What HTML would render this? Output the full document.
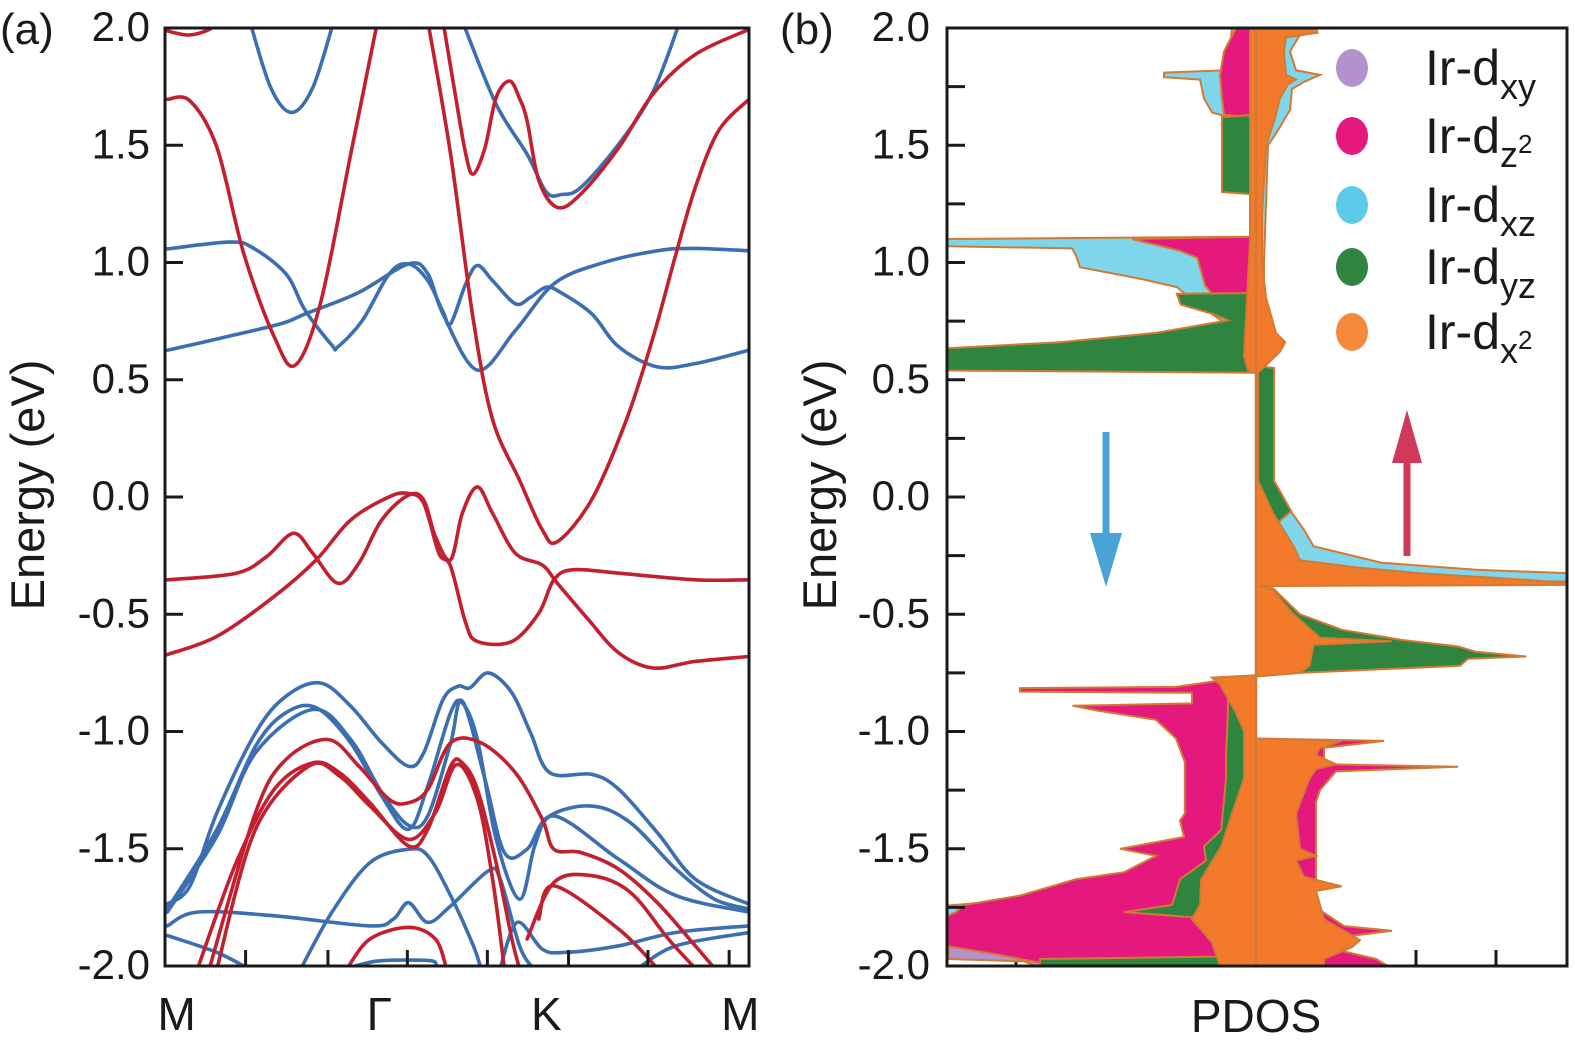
<!DOCTYPE html>
<html><head><meta charset="utf-8"><style>
html,body{margin:0;padding:0;background:#fff;}
svg{display:block;font-family:"Liberation Sans",sans-serif;}
</style></head><body>
<svg id="fig" width="1575" height="1040" viewBox="0 0 1575 1040" xmlns="http://www.w3.org/2000/svg">
<defs>
<clipPath id="clipA"><rect x="165" y="28" width="584" height="938"/></clipPath>
<clipPath id="clipB"><rect x="947" y="28" width="620" height="938"/></clipPath>
</defs>
<rect width="1575" height="1040" fill="#fff"/>
<g id="panelA"></g>
<g id="panelB"></g>
</svg>
<script>
// ---------- Panel (a) band structure data: k (path fraction 0..1) and energies (eV) ----------
const redBandK = [
 [0.004,0.043,0.089,0.135,0.187,0.223,0.266,0.318,0.364],
 [0.0,0.04,0.076,0.09],
 [0.45,0.489,0.528,0.561,0.607,0.646,0.672,0.731,0.79,0.836,0.875,0.908,0.948,1.0],
 [0.476,0.495,0.515,0.528,0.548,0.567,0.59,0.607,0.62,0.64,0.672,0.712,0.777,0.836,0.908,1.0],
 [0.004,0.122,0.174,0.22,0.253,0.296,0.332,0.371,0.417,0.443,0.463,0.489,0.509,0.535,0.561,0.6,0.646,0.672,0.725,0.777,0.836,0.908,1.0],
 [0.004,0.089,0.187,0.259,0.318,0.384,0.417,0.443,0.469,0.489,0.515,0.535,0.594,0.64,0.666,0.699,0.777,0.908,1.0],
 [0.056,0.122,0.187,0.253,0.299,0.351,0.417,0.45,0.489,0.509,0.535,0.567,0.594,0.607],
 [0.076,0.155,0.207,0.279,0.332,0.384,0.417,0.45,0.489,0.541,0.6,0.646,0.666,0.712,0.777,0.843,0.908,0.941],
 [0.089,0.155,0.246,0.299,0.351,0.417,0.463,0.499,0.535,0.561,0.581],
 [0.62,0.666,0.731,0.797,0.862,0.908],
 [0.64,0.666,0.777,0.843],
 [0.312,0.351,0.417,0.463,0.482]
];
const redBandE = [
 [1.696,1.689,1.49,1.037,0.683,0.562,0.824,1.462,2.03],
 [1.99,1.97,1.994,2.03],
 [2.03,1.462,0.753,0.33,0.072,-0.14,-0.19,-0.01,0.329,0.683,1.037,1.32,1.562,1.696],
 [2.03,1.746,1.462,1.377,1.49,1.703,1.774,1.70,1.604,1.35,1.235,1.292,1.49,1.72,1.887,1.994],
 [-0.353,-0.325,-0.254,-0.155,-0.24,-0.368,-0.282,-0.098,0.008,-0.013,-0.169,-0.268,-0.07,0.043,-0.07,-0.24,-0.29,-0.368,-0.523,-0.665,-0.729,-0.701,-0.68],
 [-0.672,-0.594,-0.424,-0.268,-0.098,0.001,0.015,-0.027,-0.24,-0.296,-0.538,-0.616,-0.616,-0.495,-0.353,-0.31,-0.325,-0.353,-0.353],
 [-2.01,-1.559,-1.247,-1.134,-1.176,-1.304,-1.488,-1.417,-1.148,-1.134,-1.247,-1.559,-1.885,-2.01],
 [-2.01,-1.346,-1.12,-1.034,-1.148,-1.29,-1.304,-1.247,-1.048,-1.048,-1.176,-1.374,-1.502,-1.516,-1.587,-1.73,-1.914,-2.01],
 [-2.01,-1.417,-1.148,-1.19,-1.318,-1.46,-1.346,-1.141,-1.29,-1.63,-2.01],
 [-1.885,-1.644,-1.615,-1.686,-1.885,-2.01],
 [-1.8,-1.658,-1.843,-2.01],
 [-2.01,-1.885,-1.835,-1.885,-2.01]
];
const blueBandK = [
 [0.145,0.181,0.217,0.253,0.289],
 [0.509,0.567,0.62,0.653,0.679,0.712,0.777,0.836,0.882],
 [0.004,0.109,0.148,0.207,0.24,0.286,0.296,0.338,0.384,0.417,0.45,0.476,0.489,0.515,0.535,0.561,0.6,0.626,0.653,0.679,0.731,0.777,0.843,0.908,1.0],
 [0.004,0.1,0.2,0.24,0.33,0.417,0.45,0.476,0.535,0.6,0.666,0.745,0.843,0.908,1.0],
 [0.004,0.043,0.089,0.155,0.207,0.266,0.318,0.371,0.417,0.443,0.476,0.502,0.522,0.554,0.594,0.626,0.659,0.731,0.777,0.843,0.908,1.0],
 [0.004,0.089,0.155,0.207,0.259,0.318,0.371,0.417,0.45,0.489,0.509,0.535,0.567,0.607,0.633,0.659,0.731,0.797,0.875,0.941,1.0],
 [0.004,0.089,0.155,0.253,0.318,0.371,0.417,0.45,0.489,0.509,0.548,0.581,0.62,0.666,0.777,0.875,1.0],
 [0.233,0.286,0.351,0.417,0.45,0.489,0.528,0.541],
 [0.004,0.056,0.187,0.351,0.391,0.417,0.45,0.489,0.554,0.574,0.607,0.63],
 [0.004,0.089,0.142],
 [0.574,0.603,0.646,0.685,0.777,0.875,1.0],
 [0.81,0.875,1.0],
 [0.312,0.36,0.417,0.46,0.463]
];
const blueBandE = [
 [2.03,1.746,1.64,1.746,2.03],
 [2.03,1.675,1.462,1.30,1.29,1.32,1.505,1.73,2.03],
 [1.058,1.087,1.066,0.952,0.796,0.647,0.64,0.753,0.952,0.994,0.923,0.79,0.739,0.909,0.987,0.923,0.824,0.852,0.895,0.87,0.781,0.64,0.555,0.569,0.626],
 [0.626,0.68,0.74,0.781,0.87,0.994,0.952,0.781,0.541,0.71,0.909,0.995,1.05,1.06,1.05],
 [-1.736,-1.658,-1.346,-1.006,-0.85,-0.793,-0.892,-1.048,-1.148,-1.091,-0.864,-0.807,-0.814,-0.75,-0.835,-1.006,-1.176,-1.183,-1.247,-1.431,-1.63,-1.736],
 [-1.757,-1.417,-1.063,-0.92,-0.899,-1.048,-1.275,-1.417,-1.232,-0.92,-0.878,-1.034,-1.459,-1.715,-1.488,-1.36,-1.318,-1.389,-1.587,-1.715,-1.757],
 [-1.77,-1.445,-1.091,-0.906,-1.034,-1.26,-1.40,-1.36,-1.05,-0.87,-1.204,-1.516,-1.502,-1.36,-1.545,-1.7,-1.77],
 [-2.01,-1.77,-1.559,-1.502,-1.53,-1.70,-1.914,-2.01],
 [-1.829,-1.77,-1.786,-1.829,-1.8,-1.73,-1.814,-1.744,-1.594,-1.63,-1.914,-2.01],
 [-1.87,-1.942,-2.01],
 [-2.01,-1.814,-1.928,-1.942,-1.914,-1.857,-1.829],
 [-2.01,-1.914,-1.857],
 [-2.01,-1.98,-1.975,-1.98,-2.01]
];
const energyTicks = [2.0,1.5,1.0,0.5,0.0,-0.5,-1.0,-1.5,-2.0];
const energyTickLabels = ["2.0","1.5","1.0","0.5","0.0","-0.5","-1.0","-1.5","-2.0"];
const kMinorTicks = [0.138,0.279,0.415,0.552,0.691,0.827,0.966];
const kPointLabels = ["M","Γ","K","M"];
const kPointLabelPos = [0.02,0.367,0.653,0.985];

// ---------- Panel (b) PDOS data: [energy eV, PDOS value] ----------
const dxyUp = [[-1.9,0],[-1.98,0.2],[-2.0,0.3]];
const dz2Up = [[-1.02,0],[-1.03,0],[-1.04,3.2],[-1.07,1.7],[-1.14,1.7],[-1.15,5.05],[-1.17,2.0],[-1.25,1.6],[-1.3,1.5],[-1.75,1.5],[-1.83,2.2],[-1.85,3.4],[-1.88,2.0],[-1.93,2.0],[-1.97,3.0],[-2.0,3.3]];
const dxzUp = [[2.0,1.2],[1.9,0.85],[1.82,1.0],[1.80,1.6],[1.77,1.2],[1.74,0.9],[1.65,0.85],[1.55,0.5],[1.5,0.3],[1.0,0.2],[0.1,0.2],[-0.14,1.2],[-0.21,1.44],[-0.28,3.14],[-0.31,5.5],[-0.325,7.8],[-0.36,7.8],[-0.37,0],[-2.0,0]];
const dyzUp = [[0.56,0],[0.55,0.45],[0.3,0.45],[0.07,0.45],[-0.06,0.88],[-0.1,0.6],[-0.38,0],[-0.39,0.43],[-0.5,1.1],[-0.566,2.14],[-0.61,3.65],[-0.637,5.05],[-0.66,5.5],[-0.68,6.76],[-0.69,5.3],[-0.72,5.1],[-0.75,1.1],[-0.765,0],[-2.0,0]];
const dx2Up = [[2.0,1.5],[1.98,1.54],[1.96,0.75],[1.9,0.7],[1.8,0.75],[1.78,1.0],[1.76,0.8],[1.7,0.6],[1.6,0.45],[1.5,0.25],[1.2,0.15],[1.0,0.15],[0.85,0.25],[0.7,0.5],[0.66,0.73],[0.62,0.6],[0.57,0.3],[0.53,0.05],[0.07,0.05],[-0.07,0.43],[-0.21,0.94],[-0.27,1.1],[-0.3,2.5],[-0.325,4.1],[-0.353,6.76],[-0.367,7.8],[-0.375,7.8],[-0.38,0.1],[-0.40,0.43],[-0.5,0.94],[-0.6,1.6],[-0.615,3.4],[-0.63,1.44],[-0.72,1.34],[-0.75,1.1],[-0.765,0],[-1.03,0],[-1.04,2.14],[-1.07,1.6],[-1.1,1.5],[-1.14,2.0],[-1.16,1.5],[-1.2,1.34],[-1.35,1.0],[-1.5,1.1],[-1.53,1.5],[-1.55,1.0],[-1.62,1.2],[-1.66,2.14],[-1.68,1.5],[-1.8,1.7],[-1.89,2.6],[-1.92,2.4],[-1.97,1.7],[-2.0,1.7]];
const dxyDn = [[-1.9,0],[-1.92,7.7],[-1.97,7.7],[-1.98,5.8],[-2.0,5.5]];
const dz2Dn = [[2.0,0.5],[1.9,0.8],[1.8,0.9],[1.7,0.85],[1.63,0.8],[1.62,0.2],[1.3,0.15],[1.29,0],[1.11,0],[1.10,3.1],[1.05,1.9],[1.02,1.47],[0.9,1.27],[0.85,1.0],[0.753,0.47],[0.7,0.3],[0.6,0.3],[0.555,0.17],[0.54,0],[-0.76,0],[-0.77,0.4],[-0.81,2.0],[-0.815,5.9],[-0.83,5.9],[-0.835,1.6],[-0.88,1.6],[-0.89,4.59],[-0.91,4.0],[-0.95,2.5],[-1.03,2.0],[-1.13,1.78],[-1.35,1.78],[-1.38,1.9],[-1.45,1.8],[-1.5,3.4],[-1.53,2.5],[-1.6,3.3],[-1.63,4.5],[-1.70,5.9],[-1.74,7.3],[-1.77,7.5],[-1.8,7.9],[-1.91,7.9],[-1.95,6.5],[-2.0,5.0]];
const dxzDn = [[2.0,0.6],[1.82,0.7],[1.81,2.3],[1.79,2.3],[1.78,1.4],[1.7,1.3],[1.64,1.1],[1.62,0.7],[1.3,0.7],[1.29,0],[1.11,0],[1.10,7.9],[1.07,7.9],[1.06,4.6],[1.03,4.5],[0.98,4.4],[0.93,2.88],[0.895,1.98],[0.824,1.47],[0.753,0.87],[0.64,0.7],[0.61,0.4],[0.58,1.5],[0.555,1.78],[0.54,0],[-0.77,0],[-0.78,1.0],[-0.9,1.0],[-1.0,1.1],[-1.2,1.2],[-1.42,1.4],[-1.53,2.2],[-1.6,1.9],[-1.63,3.3],[-1.70,4.8],[-1.745,7.9],[-1.78,7.9],[-1.80,3.9],[-1.86,1.9],[-1.92,1.9],[-1.97,1.5],[-2.0,1.5]];
const dyzDn = [[2.0,0],[1.63,0],[1.62,0.85],[1.3,0.85],[1.29,0],[0.87,0],[0.866,1.98],[0.82,1.88],[0.78,1.07],[0.753,0.7],[0.70,2.5],[0.66,4.9],[0.633,7.9],[0.54,7.9],[0.53,0],[-0.82,0],[-0.83,0.7],[-0.9,0.7],[-1.0,0.72],[-1.1,0.75],[-1.2,0.75],[-1.42,0.87],[-1.49,1.3],[-1.55,1.25],[-1.63,1.9],[-1.74,2.1],[-1.77,3.3],[-1.8,1.0],[-1.9,0.6],[-1.96,1.0],[-1.97,5.4],[-2.0,5.4]];
const dx2Dn = [[2.0,0.15],[1.09,0.15],[0.6,0.3],[0.54,0.2],[0.53,0],[-0.76,0],[-0.77,1.1],[-0.8,0.9],[-0.92,0.5],[-1.0,0.3],[-1.2,0.3],[-1.35,0.6],[-1.49,0.87],[-1.63,1.37],[-1.74,1.4],[-1.8,1.6],[-1.9,1.1],[-2.0,0.9]];
const pdosTicks = [-6,-4,-2,2,4,6];
const pdosEnergyTicks = [2.0,1.75,1.5,1.25,1.0,0.75,0.5,0.25,0.0,-0.25,-0.5,-0.75,-1.0,-1.25,-1.5,-1.75,-2.0];
const legendLabels = ["xy","z2","xz","yz","x2"];

// ---------- helpers ----------
const NS = "http://www.w3.org/2000/svg";
const yE = e => 497 - e * 234.5;
const xK = u => 165 + u * 584;
const xP = v => 1256 + v * 40;
function mk(tag, attrs, parent){ const el=document.createElementNS(NS,tag); for(const k in attrs) el.setAttribute(k,attrs[k]); parent.appendChild(el); return el; }
function smoothPath(pts){
  let d = "M"+pts[0][0].toFixed(1)+","+pts[0][1].toFixed(1);
  for(let i=0;i<pts.length-1;i++){
    const p0=pts[Math.max(i-1,0)],p1=pts[i],p2=pts[i+1],p3=pts[Math.min(i+2,pts.length-1)];
    const c1=[p1[0]+(p2[0]-p0[0])/6,p1[1]+(p2[1]-p0[1])/6];
    const c2=[p2[0]-(p3[0]-p1[0])/6,p2[1]-(p3[1]-p1[1])/6];
    d+=" C"+c1[0].toFixed(1)+","+c1[1].toFixed(1)+" "+c2[0].toFixed(1)+","+c2[1].toFixed(1)+" "+p2[0].toFixed(1)+","+p2[1].toFixed(1);
  }
  return d;
}
const A = document.getElementById("panelA");
const B = document.getElementById("panelB");

// ---------- Panel A ----------
const bandsG = mk("g",{"clip-path":"url(#clipA)"},A);


function drawBands(K,E,color,name){
  for(let b=0;b<K.length;b++){
    const pts=K[b].map((u,i)=>[xK(u),yE(E[b][i])]);
    const p=mk("path",{d:smoothPath(pts),fill:"none",stroke:color,"stroke-width":"3.6","stroke-linejoin":"round","stroke-linecap":"round"},bandsG);
    
    
  }
}
drawBands(blueBandK,blueBandE,"#3b6fb1","spin-down-band");
drawBands(redBandK,redBandE,"#c3202f","spin-up-band");
const frameA = mk("rect",{x:165,y:28,width:584,height:938,fill:"none",stroke:"#1a1a1a","stroke-width":"3"},A);


energyTicks.forEach((e,i)=>{
  const t=mk("line",{x1:165,x2:183,y1:yE(e),y2:yE(e),stroke:"#1a1a1a","stroke-width":"3"},A);
  
  
  const l=mk("text",{x:150,y:yE(e)+13,"text-anchor":"end","font-size":"42",fill:"#1a1a1a"},A);
  l.textContent=energyTickLabels[i];
  
  
});
kMinorTicks.forEach(u=>{
  const t=mk("line",{x1:xK(u),x2:xK(u),y1:966,y2:950,stroke:"#1a1a1a","stroke-width":"3"},A);
  
  
});
kPointLabels.forEach((s,i)=>{
  const l=mk("text",{x:xK(kPointLabelPos[i]),y:1030,"text-anchor":"middle","font-size":"46",fill:"#1a1a1a"},A);
  l.textContent=s;
  
  
});
const ylabA=mk("text",{x:0,y:0,transform:"translate(44,485) rotate(-90)","text-anchor":"middle","font-size":"47",fill:"#1a1a1a"},A);
ylabA.textContent="Energy (eV)";


const pa=mk("text",{x:0,y:44,"font-size":"44",fill:"#1a1a1a"},A);
pa.textContent="(a)";



// ---------- Panel B ----------
pdosTicks.forEach(v=>{
  const t=mk("line",{x1:xP(v),x2:xP(v),y1:966,y2:950,stroke:"#1a1a1a","stroke-width":"3"},B);
  
  
});
const fillG = mk("g",{"clip-path":"url(#clipB)"},B);


function drawPdos(data,sign,color,name){
  let pts=[[xP(0),yE(data[0][0])]];
  data.forEach(d=>pts.push([xP(sign*d[1]),yE(d[0])]));
  pts.push([xP(0),yE(data[data.length-1][0])]);
  const p=mk("polygon",{points:pts.map(q=>q[0].toFixed(1)+","+q[1].toFixed(1)).join(" "),fill:color,stroke:"#d27a34","stroke-width":"2","stroke-linejoin":"miter"},fillG);
  
  
}
const colXY="#b391cd", colZ2="#e5187e", colXZ="#7fd5ea", colYZ="#2f8440", colX2="#f37a2a";
drawPdos(dxyDn,-1,colXY,"pdos-dxy-down");
drawPdos(dxyUp,1,colXY,"pdos-dxy-up");
drawPdos(dxzDn,-1,colXZ,"pdos-dxz-down");
drawPdos(dxzUp,1,colXZ,"pdos-dxz-up");
drawPdos(dz2Dn,-1,colZ2,"pdos-dz2-down");
drawPdos(dz2Up,1,colZ2,"pdos-dz2-up");
drawPdos(dyzDn,-1,colYZ,"pdos-dyz-down");
drawPdos(dyzUp,1,colYZ,"pdos-dyz-up");
drawPdos(dx2Dn,-1,colX2,"pdos-dx2-down");
drawPdos(dx2Up,1,colX2,"pdos-dx2-up");
const cl=mk("line",{x1:xP(0),x2:xP(0),y1:28,y2:966,stroke:"#d27a34","stroke-width":"2.5"},B);


const frameB = mk("rect",{x:947,y:28,width:620,height:938,fill:"none",stroke:"#1a1a1a","stroke-width":"3"},B);


pdosEnergyTicks.forEach(e=>{
  const t=mk("line",{x1:947,x2:965,y1:yE(e),y2:yE(e),stroke:"#1a1a1a","stroke-width":"3"},B);
  
  
});
energyTicks.forEach((e,i)=>{
  const l=mk("text",{x:930,y:yE(e)+13,"text-anchor":"end","font-size":"42",fill:"#1a1a1a"},B);
  l.textContent=energyTickLabels[i];
  
  
});
const ylabB=mk("text",{x:0,y:0,transform:"translate(836,485) rotate(-90)","text-anchor":"middle","font-size":"47",fill:"#1a1a1a"},B);
ylabB.textContent="Energy (eV)";


const xlabB=mk("text",{x:1256,y:1032,"text-anchor":"middle","font-size":"46",fill:"#1a1a1a"},B);
xlabB.textContent="PDOS";


const pb=mk("text",{x:780,y:44,"font-size":"44",fill:"#1a1a1a"},B);
pb.textContent="(b)";



// arrows
const ad=mk("g",{},B);


mk("line",{x1:1106,x2:1106,y1:432,y2:545,stroke:"#4aa3d6","stroke-width":"7"},ad);
mk("polygon",{points:"1090,533 1122,533 1106,587",fill:"#4aa3d6"},ad);
const au=mk("g",{},B);


mk("line",{x1:1407,x2:1407,y1:455,y2:556,stroke:"#d0395a","stroke-width":"7"},au);
mk("polygon",{points:"1392,463 1422,463 1407,410",fill:"#d0395a"},au);

// legend
const legCols=[colXY,colZ2,"#5ccbea",colYZ,"#f58a3c"];
const legY=[68,136,205,267,332];
legendLabels.forEach((s,i)=>{
  const g=mk("g",{},B);
  
  
  mk("ellipse",{cx:1352,cy:legY[i],rx:16,ry:19,fill:legCols[i]},g);
  const t=mk("text",{x:1425,y:legY[i]+17,"font-size":"50",fill:"#1a1a1a"},g);
  const t1=mk("tspan",{},t); t1.textContent="Ir-d";
  if(s.endsWith("2")){
    const t2=mk("tspan",{dy:"14","font-size":"36"},t); t2.textContent=s[0];
    const t3=mk("tspan",{dy:"-14","font-size":"26"},t); t3.textContent="2";
  } else {
    const t2=mk("tspan",{dy:"14","font-size":"36"},t); t2.textContent=s;
  }
});
</script>
</body></html>
